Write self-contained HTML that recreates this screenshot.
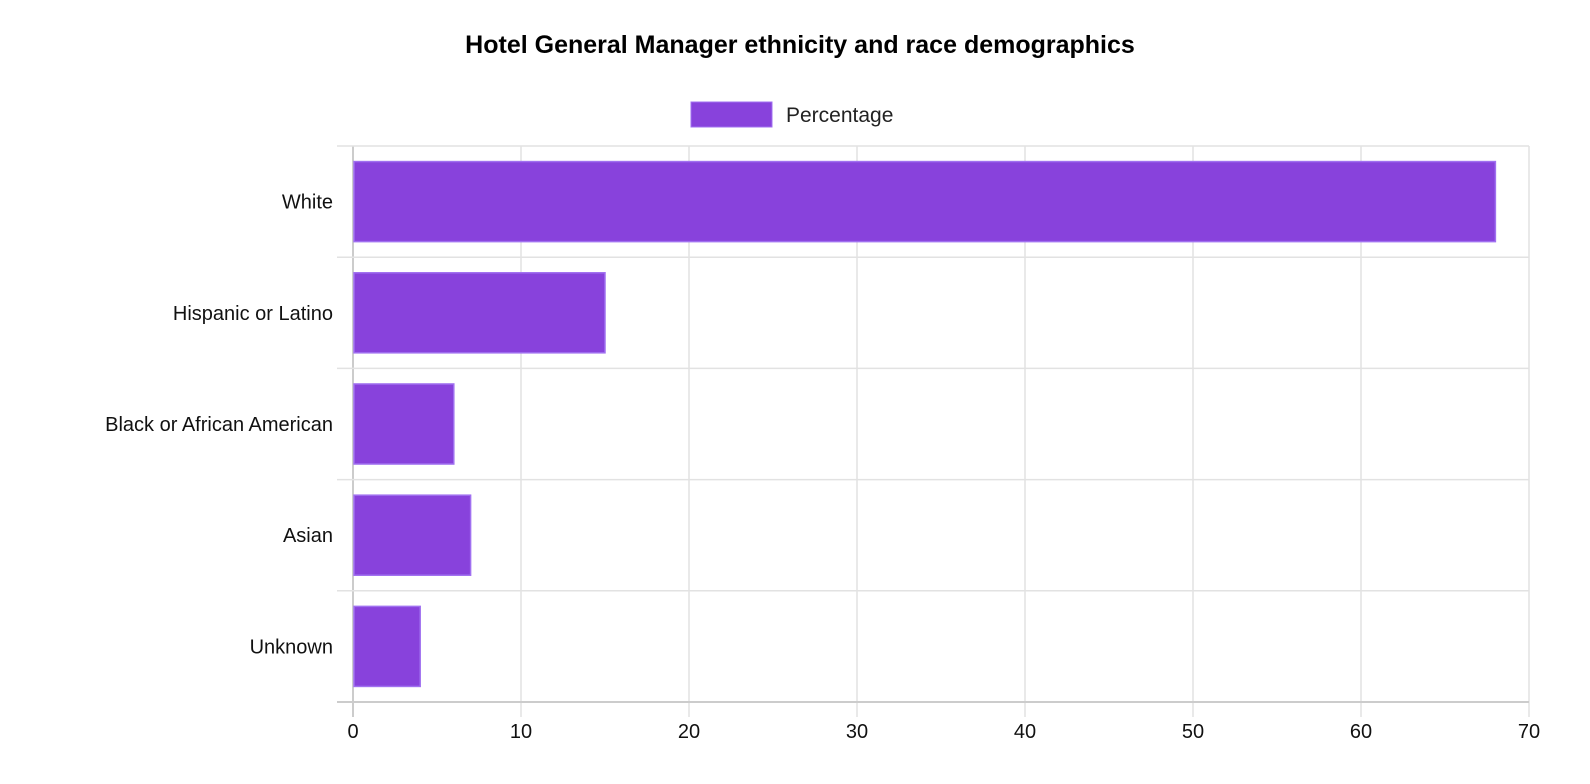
<!DOCTYPE html>
<html><head><meta charset="utf-8"><style>
body{margin:0;background:#fff;font-family:"Liberation Sans",Arial,sans-serif}
svg{display:block}
</style></head><body>
<svg id="chart" width="1590" height="784">
<text x="800" y="53" text-anchor="middle" font-size="25" font-weight="bold" fill="#000">Hotel General Manager ethnicity and race demographics</text>
<g>
<rect x="691" y="102" width="81" height="25" fill="#8842dc" stroke="#a070f0"></rect>
<text x="786" y="122" font-size="21" fill="#222">Percentage</text>
</g>
<g id="grid"></g><g id="bars"></g><g id="labels"></g>
</svg>
<script>
const categories=["White","Hispanic or Latino","Black or African American","Asian","Unknown"];
const values=[68,15,6,7,4];
const ticks=[0,10,20,30,40,50,60,70];
const NS="http://www.w3.org/2000/svg";
const L=353,R=1529,T=146,B=702,MAX=70;
const xs=v=>L+(v/MAX)*(R-L);
const rowH=(B-T)/categories.length;
const ys=i=>T+i*rowH;
function mk(t,a,p){const e=document.createElementNS(NS,t);for(const k in a)e.setAttribute(k,a[k]);p.appendChild(e);return e;}
const g=document.getElementById('grid'),gb=document.getElementById('bars'),gl=document.getElementById('labels');
ticks.forEach(v=>{
 const l=mk('line',{x1:xs(v),x2:xs(v),y1:T,y2:B+15,stroke:v===0?'#ccc':'#e2e2e2','stroke-width':v===0?2:1.5},g);
 
 
 const t=mk('text',{x:xs(v),y:738,'text-anchor':'middle','font-size':20,fill:'#111'},gl);
 t.textContent=v;
 
 
});
for(let i=0;i<=categories.length;i++){
 const l=mk('line',{x1:337,x2:R,y1:ys(i),y2:ys(i),stroke:i===categories.length?'#ccc':'#e2e2e2','stroke-width':i===categories.length?2:1.5},g);
 
 
}
categories.forEach((c,i)=>{
 const bh=rowH*0.72;
 const y=ys(i)+(rowH-bh)/2;
 const r=mk('rect',{x:xs(0)+1,y:y,width:xs(values[i])-xs(0)-1,height:bh,fill:'#8842dc',stroke:'#a070f0','stroke-width':1.5},gb);
 
 
 const t=mk('text',{x:333,y:ys(i)+rowH/2+7,'text-anchor':'end','font-size':20,fill:'#111'},gl);
 t.textContent=c;
 
 
});
</script>
</body></html>
